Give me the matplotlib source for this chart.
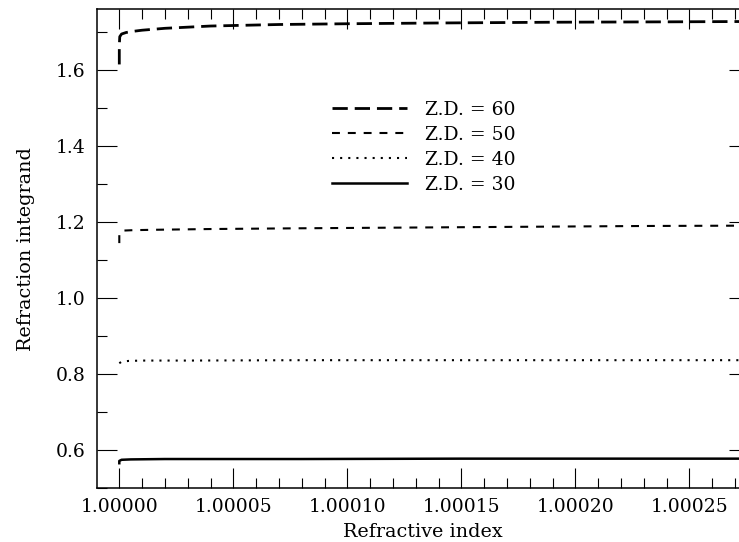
import numpy as np
import matplotlib
matplotlib.use('Agg')
import matplotlib.pyplot as plt
from matplotlib.ticker import MultipleLocator, FormatStrFormatter

# refractive index offsets (units of 1e-5 above 1) and integrand values
dn_60 = [0.0, 0.0, 0.02, 0.1, 0.3, 0.6, 1.0, 2.0, 4.0, 7.0, 10.0, 14.0, 19.0, 24.0, 28.0]
zd_60 = [1.615, 1.665, 1.688, 1.695, 1.699, 1.702, 1.705, 1.710, 1.716, 1.720, 1.722, 1.724, 1.726, 1.727, 1.728]

dn_50 = [0.0, 0.0, 0.05, 0.2, 0.6, 1.5, 4.0, 8.0, 13.0, 18.0, 23.0, 28.0]
zd_50 = [1.145, 1.168, 1.175, 1.178, 1.179, 1.180, 1.182, 1.184, 1.186, 1.188, 1.190, 1.191]

dn_40 = [0.0, 0.1, 0.4, 1.0, 3.0, 8.0, 15.0, 22.0, 28.0]
zd_40 = [0.829, 0.833, 0.835, 0.836, 0.836, 0.837, 0.837, 0.837, 0.837]

dn_30 = [0.0, 0.0, 0.1, 0.5, 2.0, 8.0, 15.0, 22.0, 28.0]
zd_30 = [0.566, 0.572, 0.575, 0.576, 0.577, 0.577, 0.578, 0.578, 0.578]

labels = ['Z.D. = 60', 'Z.D. = 50', 'Z.D. = 40', 'Z.D. = 30']

plt.rcParams['font.family'] = 'DejaVu Serif'
fs = 13.5

fig = plt.figure(figsize=(7.39, 5.42), dpi=100)
W, H = 739.0, 542.0
# right spine sits just past the picture edge
ax = fig.add_axes([96.7 / W, 1 - 488.3 / H, (749 - 96.7) / W, (488.3 - 9.3) / H])

def n(d):
    return 1 + np.asarray(d) * 1e-5

lw = 1.5
l60, = ax.plot(n(dn_60), zd_60, color='black', lw=2.0, dashes=(5.5, 2.5), label=labels[0])
l50, = ax.plot(n(dn_50), zd_50, color='black', lw=lw, dashes=(3.8, 3.8), label=labels[1])
l40, = ax.plot(n(dn_40), zd_40, color='black', lw=lw, dashes=(1.0, 2.9), label=labels[2])
l30, = ax.plot(n(dn_30), zd_30, color='black', lw=1.8, label=labels[3])

xmax = 1 + (749 - 119.3) / 114.0 * 5e-5
ax.set_xlim(1 - 22.6 / 114.0 * 5e-5, xmax)
ax.set_ylim(0.5, 1.76)

ax.xaxis.set_major_locator(MultipleLocator(5e-5))
ax.xaxis.set_minor_locator(MultipleLocator(1e-5))
ax.xaxis.set_major_formatter(FormatStrFormatter('%.5f'))
ax.yaxis.set_major_locator(MultipleLocator(0.2))
ax.yaxis.set_minor_locator(MultipleLocator(0.1))
ax.yaxis.set_major_formatter(FormatStrFormatter('%.1f'))

ax.tick_params(which='both', direction='in', top=True, right=True, labelsize=fs, width=0.8)
ax.tick_params(which='major', length=14.5)
ax.tick_params(which='minor', length=7.5)
ax.tick_params(axis='x', pad=7)
ax.tick_params(axis='y', pad=8)
for s in ax.spines.values():
    s.set_linewidth(1.1)

ax.set_xlabel('Refractive index', fontsize=fs + 0.3, labelpad=5)
ax.set_ylabel('Refraction integrand', fontsize=fs + 0.3, labelpad=15)

leg = ax.legend(handles=[l60, l50, l40, l30], loc='upper left',
                bbox_to_anchor=((324 - 96.7) / (749 - 96.7), 1 - (93 - 9.3) / (488.3 - 9.3)),
                frameon=False, fontsize=fs, handlelength=4.0, handletextpad=1.0,
                labelspacing=0.38, borderaxespad=0)

fig.savefig('out.png', dpi=100)
